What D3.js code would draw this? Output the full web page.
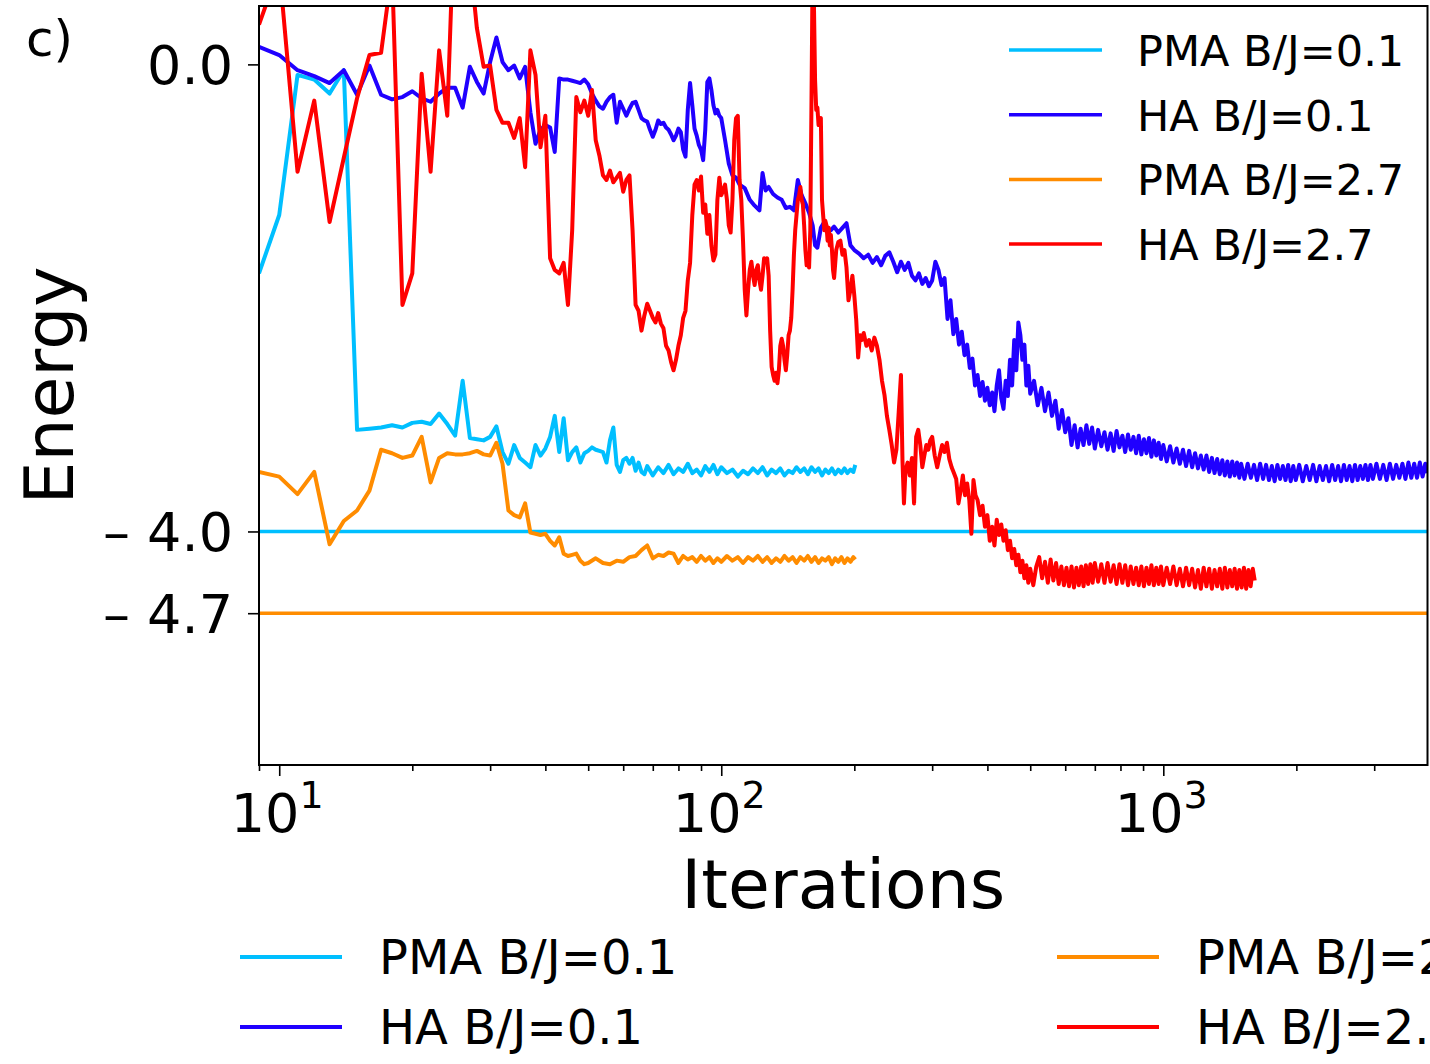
<!DOCTYPE html>
<html>
<head>
<meta charset="utf-8">
<script src="https://cdn.jsdelivr.net/npm/d3@7"></script>
<style>
  body { margin: 0; background: #fff; }
  svg { display: block; font-family: "DejaVu Sans", sans-serif; }
</style>
</head>
<body>
<div class="container"></div>
<script>
// energy vs iterations, log x axis

const seriesNames = ["PMA B/J=0.1", "HA B/J=0.1", "PMA B/J=2.7", "HA B/J=2.7"];
const seriesColors = ["#00bfff", "#2000ff", "#ff8c00", "#ff0000"];

// reference energies (horizontal lines)
const refLevels = [-4.0, -4.7];
const refColors = ["#00bfff", "#ff8c00"];

const majorTicks = [10, 100, 1000];
const majorExp = ["1", "2", "3"];
const minorTicks = [9, 20, 30, 40, 50, 60, 70, 80, 90, 200, 300, 400, 500, 600, 700, 800, 900, 2000, 3000];
const energyTicks = [0, -4.0, -4.7];
const energyLabels = ["0.0", "\u2013 4.0", "\u2013 4.7"];

// [iteration, energy]
const pmaB01 = [
  [9,-1.79],[10,-1.29],[11,-0.09],[12,-0.13],[13,-0.25],[14,-0.05],[15,-3.13],[16,-3.12],[17,-3.11],[18,-3.09],
  [19,-3.11],[20,-3.07],[21,-3.06],[22,-3.08],[23,-2.99],[24,-3.08],[25,-3.18],[26,-2.71],[27,-3.20],[28,-3.21],
  [29,-3.22],[30,-3.19],[31,-3.10],[32,-3.32],[33,-3.42],[34,-3.26],[35,-3.37],[36,-3.41],[37,-3.45],[38,-3.26],
  [39,-3.35],[40,-3.29],[41,-3.19],[42,-3.01],[43,-3.32],[44,-3.03],[45,-3.39],[46,-3.32],[47,-3.28],[48,-3.41],
  [49,-3.33],[50,-3.31],[51,-3.28],[52,-3.30],[53,-3.31],[54,-3.32],[55,-3.41],[56,-3.22],[57,-3.11],[58,-3.43],
  [59,-3.49],[60,-3.39],[61,-3.37],[62,-3.42],[63,-3.37],[64,-3.48],[65,-3.41],[66,-3.49],[67,-3.51],[68,-3.44],
  [70,-3.52],[72,-3.45],[74,-3.50],[76,-3.43],[78,-3.51],[80,-3.46],[82,-3.49],[84,-3.42],[86,-3.50],[88,-3.47],
  [90,-3.52],[92,-3.44],[94,-3.49],[96,-3.43],[98,-3.51],[100,-3.45],[103,-3.50],[106,-3.47],[109,-3.53],[112,-3.48],
  [115,-3.51],[118,-3.46],[121,-3.50],[124,-3.45],[127,-3.52],[130,-3.47],[133,-3.50],[136,-3.46],[139,-3.52],[142,-3.48],
  [145,-3.50],[148,-3.45],[151,-3.49],[154,-3.46],[157,-3.51],[160,-3.45],[163,-3.49],[166,-3.46],[169,-3.52],[172,-3.47],
  [175,-3.50],[178,-3.46],[181,-3.51],[184,-3.47],[187,-3.50],[190,-3.46],[193,-3.50],[196,-3.47],[199,-3.49],[201,-3.43]
];

const haB01 = [
  [9,0.15],[10,0.08],[11,-0.05],[12,-0.10],[13,-0.16],[14,-0.05],[15,-0.26],[16,-0.01],[17,-0.26],[18,-0.30],
  [19,-0.28],[20,-0.23],[21,-0.29],[22,-0.32],[23,-0.25],[24,-0.20],[25,-0.20],[26,-0.37],[27,-0.02],[28,-0.15],
  [29,-0.25],[30,0.02],[31,0.23],[32,0.02],[33,-0.05],[34,-0.01],[35,-0.12],[36,-0.02],[37,-0.41],[38,-0.68],
  [39,-0.56],[40,-0.52],[41,-0.54],[42,-0.75],[43,-0.12],[44,-0.13],[45,-0.13],[46,-0.14],[47,-0.15],[48,-0.16],
  [49,-0.13],[50,-0.17],[51,-0.25],[52,-0.31],[53,-0.36],[54,-0.38],[55,-0.32],[56,-0.28],[57,-0.26],[58,-0.50],
  [59,-0.32],[60,-0.38],[61,-0.44],[62,-0.38],[63,-0.33],[64,-0.32],[65,-0.39],[66,-0.46],[67,-0.48],[68,-0.49],
  [69,-0.56],[70,-0.62],[71,-0.56],[72,-0.48],[73,-0.51],[74,-0.50],[75,-0.54],[76,-0.56],[77,-0.60],[78,-0.65],
  [79,-0.61],[80,-0.55],[81,-0.58],[82,-0.73],[83,-0.79],[84,-0.39],[85,-0.16],[86,-0.35],[87,-0.55],[88,-0.61],
  [89,-0.69],[90,-0.73],[91,-0.82],[92,-0.56],[93,-0.15],[94,-0.12],[95,-0.22],[96,-0.35],[97,-0.42],[98,-0.39],
  [99,-0.44],[100,-0.46],[102,-0.65],[104,-0.85],[106,-0.95],[108,-0.97],[110,-1.03],[113,-1.06],[116,-1.16],[119,-1.21],
  [122,-1.25],[124,-0.93],[126,-1.08],[128,-1.05],[131,-1.11],[134,-1.14],[137,-1.16],[140,-1.23],[143,-1.22],[146,-1.25],
  [149,-0.99],[152,-1.12],[155,-1.19],[158,-1.27],[161,-1.38],[163,-1.55],[165,-1.57],[168,-1.40],[171,-1.35],[174,-1.44],
  [177,-1.42],[180,-1.39],[184,-1.44],[188,-1.40],[192,-1.36],[196,-1.55],[200,-1.59],[205,-1.62],[210,-1.66],[215,-1.63],
  [220,-1.70],[225,-1.65],[230,-1.72],[235,-1.64],[240,-1.61],[245,-1.69],[250,-1.78],[255,-1.69],[260,-1.76],[265,-1.70],
  [270,-1.81],[275,-1.85],[280,-1.79],[285,-1.88],[290,-1.83],[295,-1.90],[300,-1.85],[305,-1.69],[310,-1.76],[315,-1.89],
  [320,-1.83],[325,-2.18],[330,-2.02],[335,-2.31],[340,-2.18],[345,-2.40],[350,-2.29],[355,-2.49],[360,-2.40],[365,-2.60],
  [370,-2.52],[375,-2.75],[380,-2.66],[385,-2.84],[390,-2.72],[395,-2.88],[400,-2.77],[405,-2.92],[410,-2.81],[415,-2.97],
  [420,-2.75],[425,-2.62],[430,-2.86],[435,-2.95],[440,-2.71],[445,-2.84],[450,-2.53],[455,-2.75],[460,-2.36],[465,-2.62],
  [470,-2.21],[475,-2.32],[480,-2.53],[485,-2.40],[490,-2.75],[495,-2.58],[500,-2.82],[510,-2.71],[520,-2.92],[530,-2.77],
  [540,-2.97],[550,-2.81],[560,-3.01],[570,-2.88],[580,-3.12],[590,-2.96],[600,-3.15],[610,-3.03],[620,-3.26],[630,-3.09],
  [640,-3.28],[650,-3.12],[660,-3.26],[670,-3.09],[680,-3.25],[690,-3.11],
  [700,-3.29],[712,-3.13],[724,-3.27],[736,-3.15],[748,-3.30],[760,-3.16],[772,-3.31],[784,-3.14],[796,-3.28],[808,-3.18],
  [820,-3.32],[832,-3.17],[844,-3.30],[856,-3.19],[868,-3.33],[880,-3.18],[892,-3.34],[904,-3.21],[916,-3.33],[928,-3.20],
  [940,-3.36],[952,-3.22],[964,-3.35],[976,-3.24],[988,-3.38],[1000,-3.26],[1018,-3.40],[1036,-3.27],[1054,-3.41],[1072,-3.29],
  [1090,-3.42],[1108,-3.30],[1126,-3.44],[1144,-3.31],[1162,-3.45],[1180,-3.33],[1198,-3.46],[1216,-3.35],[1234,-3.47],[1252,-3.35],
  [1270,-3.49],[1288,-3.37],[1306,-3.50],[1324,-3.38],[1342,-3.51],[1360,-3.39],[1378,-3.52],[1396,-3.40],[1414,-3.53],[1432,-3.40],
  [1450,-3.52],[1468,-3.41],[1486,-3.54],[1500,-3.42],[1526,-3.55],[1552,-3.42],[1578,-3.54],[1604,-3.43],[1630,-3.56],[1656,-3.42],
  [1682,-3.55],[1708,-3.43],[1734,-3.56],[1760,-3.44],[1786,-3.57],[1812,-3.43],[1838,-3.55],[1864,-3.44],[1890,-3.56],[1916,-3.43],
  [1942,-3.57],[1968,-3.44],[1994,-3.56],[2030,-3.43],[2068,-3.57],[2106,-3.44],[2144,-3.56],[2182,-3.43],[2220,-3.57],[2258,-3.44],
  [2296,-3.56],[2334,-3.44],[2372,-3.57],[2410,-3.43],[2448,-3.56],[2486,-3.44],[2524,-3.57],[2562,-3.43],[2600,-3.56],[2638,-3.44],
  [2676,-3.57],[2714,-3.43],[2752,-3.56],[2790,-3.44],[2828,-3.55],[2866,-3.43],[2904,-3.56],[2942,-3.43],[2980,-3.55],[3035,-3.42],
  [3090,-3.55],[3145,-3.43],[3200,-3.56],[3255,-3.42],[3310,-3.55],[3365,-3.43],[3420,-3.54],[3475,-3.42],[3530,-3.55],[3585,-3.41],
  [3640,-3.54],[3695,-3.42],[3750,-3.54],[3805,-3.41],[3860,-3.53],[3915,-3.42],[3960,-3.50]
];

const pmaB27 = [
  [9,-3.49],[10,-3.53],[11,-3.68],[12,-3.49],[13,-4.11],[14,-3.91],[15,-3.82],[16,-3.65],[17,-3.30],[18,-3.33],
  [19,-3.37],[20,-3.35],[21,-3.19],[22,-3.58],[23,-3.37],[24,-3.33],[25,-3.34],[26,-3.34],[27,-3.33],[28,-3.31],
  [29,-3.34],[30,-3.35],[31,-3.24],[32,-3.42],[33,-3.82],[34,-3.86],[35,-3.88],[36,-3.76],[37,-4.01],[38,-4.02],
  [39,-4.03],[40,-4.02],[41,-4.08],[42,-4.12],[43,-4.05],[44,-4.19],[45,-4.21],[46,-4.20],[47,-4.19],[48,-4.25],
  [49,-4.28],[50,-4.27],[52,-4.23],[54,-4.27],[56,-4.28],[58,-4.25],[60,-4.26],[62,-4.22],[64,-4.21],[66,-4.16],
  [67,-4.14],[68,-4.12],[70,-4.23],[72,-4.20],[74,-4.21],[76,-4.18],[78,-4.19],[80,-4.27],[82,-4.21],[84,-4.24],
  [86,-4.22],[88,-4.26],[90,-4.21],[92,-4.25],[94,-4.22],[96,-4.27],[98,-4.23],[100,-4.26],[103,-4.21],[106,-4.25],
  [109,-4.22],[112,-4.27],[115,-4.22],[118,-4.25],[121,-4.21],[124,-4.26],[127,-4.22],[130,-4.27],[133,-4.23],[136,-4.26],
  [139,-4.21],[142,-4.25],[145,-4.22],[148,-4.27],[151,-4.22],[154,-4.25],[157,-4.21],[160,-4.26],[163,-4.22],[166,-4.27],
  [169,-4.23],[172,-4.25],[175,-4.22],[178,-4.28],[181,-4.23],[184,-4.26],[187,-4.22],[190,-4.27],[193,-4.23],[196,-4.26],
  [199,-4.22],[201,-4.24]
];

const haB27 = [
  [9,0.34],[10,0.83],[11,-0.92],[12,-0.31],[13,-1.35],[14,-0.80],[15,-0.29],[16,0.08],[17,0.10],[18,0.81],
  [19,-2.06],[20,-1.79],[21,-0.08],[22,-0.92],[23,0.12],[24,-0.44],[25,1.5],[26,1.5],[27,0.91],[28,0.31],
  [29,-0.02],[30,-0.01],[31,-0.39],[32,-0.50],[33,-0.50],[34,-0.63],[35,-0.46],[36,-0.88],[37,0.12],[38,-0.09],
  [39,-0.71],[40,-0.44],[41,-1.66],[42,-1.76],[43,-1.79],[44,-1.70],[45,-2.06],[46,-1.42],[47,-0.28],[48,-0.41],
  [49,-0.31],[50,-0.44],[51,-0.22],[52,-0.65],[53,-0.78],[54,-0.95],[55,-0.99],[56,-0.91],[57,-1.01],[58,-0.97],
  [59,-0.93],[60,-1.09],[61,-0.99],[62,-0.95],[63,-1.42],[64,-2.06],[65,-2.11],[66,-2.28],[67,-2.15],[68,-2.05],
  [69,-2.11],[70,-2.17],[71,-2.21],[72,-2.13],[73,-2.22],[74,-2.26],[75,-2.41],[76,-2.45],[77,-2.55],[78,-2.62],
  [79,-2.53],[80,-2.41],[81,-2.32],[82,-2.17],[83,-2.11],[84,-1.85],[85,-1.70],[86,-1.29],[87,-1.03],[88,-0.99],
  [89,-1.08],[90,-0.96],[91,-1.27],[92,-1.20],[93,-1.45],[94,-1.29],[95,-1.55],[96,-1.68],[97,-1.63],[98,-1.16],
  [99,-0.97],[100,-1.12],[101,-1.08],[102,-1.03],[103,-1.16],[104,-1.38],[105,-1.44],[106,-1.16],[107,-0.65],[108,-0.46],
  [109,-0.44],[110,-0.99],[111,-1.16],[112,-1.51],[113,-1.93],[114,-2.15],[115,-1.93],[116,-1.76],[117,-1.69],[118,-1.81],
  [119,-1.89],[120,-1.76],[121,-1.72],[122,-1.85],[123,-1.93],[124,-1.81],[125,-1.66],[126,-1.69],[127,-1.66],[128,-1.81],
  [129,-2.28],[130,-2.59],[131,-2.66],[132,-2.71],[133,-2.64],[134,-2.73],[135,-2.62],[136,-2.41],[137,-2.35],[138,-2.41],
  [139,-2.53],[140,-2.62],[141,-2.49],[142,-2.32],[143,-2.28],[144,-2.17],[145,-1.93],[146,-1.63],[147,-1.42],[148,-1.29],
  [149,-1.16],[150,-1.12],[151,-1.05],[152,-1.16],[153,-1.20],[154,-1.38],[155,-1.59],[156,-1.72],[157,-1.63],[158,-1.74],
  [159,-1.42],[160,-0.31],[161,0.89],[162,0.55],[163,-0.13],[164,-0.39],[165,-0.37],[166,-0.52],[167,-0.48],[168,-0.46],
  [169,-1.16],[170,-1.29],[171,-1.42],[172,-1.34],[173,-1.38],[174,-1.51],[175,-1.40],[176,-1.55],[177,-1.46],[178,-1.59],
  [179,-1.76],[180,-1.83],[182,-1.59],[184,-1.52],[186,-1.51],[188,-1.63],[190,-1.59],[192,-1.74],[194,-2.02],[196,-1.93],
  [198,-1.81],[200,-1.98],[202,-2.19],[204,-2.51],[206,-2.32],[208,-2.36],[210,-2.30],[213,-2.41],[216,-2.36],[219,-2.45],
  [222,-2.34],[225,-2.41],[228,-2.53],[231,-2.71],[234,-2.83],[237,-3.01],[240,-3.13],[243,-3.26],[246,-3.41],[249,-3.30],
  [252,-2.98],[255,-2.66],[257,-3.39],[259,-3.76],[261,-3.48],[264,-3.41],[267,-3.52],[270,-3.37],[273,-3.76],[276,-3.19],
  [279,-3.13],[282,-3.26],[285,-3.45],[288,-3.35],[291,-3.26],[294,-3.30],[297,-3.22],[300,-3.19],[304,-3.35],[308,-3.45],
  [312,-3.35],[316,-3.26],[320,-3.32],[324,-3.24],[328,-3.38],[332,-3.45],[336,-3.50],[340,-3.55],[344,-3.76],[348,-3.65],
  [352,-3.52],[356,-3.69],[360,-3.59],[364,-3.73],[368,-4.02],[372,-3.56],[376,-3.69],[380,-3.73],[385,-3.86],[390,-3.78],
  [395,-3.96],[400,-3.86],[405,-4.08],[410,-3.96],[415,-4.12],[420,-3.90],[425,-4.03],[430,-3.94],[435,-4.08],[440,-3.99],
  [445,-4.16],[450,-4.08],[455,-4.23],[460,-4.15],[465,-4.29],[470,-4.20],[475,-4.35],[480,-4.25],[485,-4.40],[490,-4.29],
  [495,-4.44],[500,-4.32],[508,-4.46],[516,-4.30],[524,-4.22],[532,-4.40],[540,-4.26],[548,-4.44],[556,-4.24],[564,-4.42],
  [572,-4.27],[580,-4.45],[588,-4.30],[596,-4.46],[604,-4.31],[612,-4.47],[620,-4.30],[628,-4.48],[636,-4.31],[644,-4.46],
  [652,-4.30],[660,-4.47],[668,-4.29],[676,-4.45],[684,-4.28],[692,-4.44],[700,-4.27],[712,-4.43],[724,-4.28],[736,-4.44],
  [748,-4.27],[760,-4.43],[772,-4.29],[784,-4.45],[796,-4.28],[808,-4.44],[820,-4.29],[832,-4.46],[844,-4.30],[856,-4.45],
  [868,-4.31],[880,-4.46],[892,-4.30],[904,-4.47],[916,-4.31],[928,-4.45],[940,-4.29],[952,-4.46],[964,-4.31],[976,-4.45],
  [988,-4.30],[1000,-4.46],[1018,-4.31],[1036,-4.45],[1054,-4.30],[1072,-4.46],[1090,-4.32],[1108,-4.47],[1126,-4.31],[1144,-4.46],
  [1162,-4.32],[1180,-4.48],[1198,-4.33],[1216,-4.49],[1234,-4.31],[1252,-4.47],[1270,-4.32],[1288,-4.49],[1306,-4.33],[1324,-4.47],
  [1342,-4.32],[1360,-4.49],[1378,-4.31],[1396,-4.48],[1414,-4.33],[1432,-4.47],[1450,-4.32],[1468,-4.49],[1486,-4.33],[1504,-4.48],
  [1522,-4.31],[1540,-4.49],[1558,-4.33],[1576,-4.47],[1594,-4.32],[1610,-4.42]
];

const allSeries = [pmaB01, haB01, pmaB27, haB27];

const W = 1430, H = 1064;
const plot = { left: 259, right: 1427.5, top: 6, bottom: 765 };

const x = d3.scaleLog().domain([9, 3960]).range([plot.left, plot.right]);
const y = d3.scaleLinear().domain([-6, 0.5]).range([plot.bottom, plot.top]);

const svg = d3.select(".container").append("svg")
  .attr("width", W).attr("height", H)
  .attr("viewBox", [0, 0, W, H]);

svg.append("defs").append("clipPath").attr("id", "clip")
  .append("rect")
  .attr("x", plot.left).attr("y", plot.top)
  .attr("width", plot.right - plot.left).attr("height", plot.bottom - plot.top);

const g = svg.append("g").attr("clip-path", "url(#clip)");

// reference lines
g.selectAll("line.ref")
  .data(refLevels)
  .join("line")
  .attr("class", "ref")
  .attr("x1", plot.left).attr("x2", plot.right)
  .attr("y1", (d) => y(d)).attr("y2", (d) => y(d))
  .attr("stroke", (d, i) => refColors[i])
  .attr("stroke-width", 3.5);

const line = d3.line().x((d) => x(d[0])).y((d) => y(d[1]));

g.selectAll("path.series")
  .data(allSeries)
  .join("path")
  .attr("class", "series")
  .attr("d", line)
  .attr("fill", "none")
  .attr("stroke", (d, i) => seriesColors[i])
  .attr("stroke-width", 4)
  .attr("stroke-linejoin", "round");

// x axis
const xMajor = svg.append("g")
  .attr("transform", `translate(0,${plot.bottom})`)
  .call(d3.axisBottom(x).tickValues(majorTicks).tickSize(11).tickFormat(""));
const xMinor = svg.append("g")
  .attr("transform", `translate(0,${plot.bottom})`)
  .call(d3.axisBottom(x).tickValues(minorTicks).tickSize(6).tickFormat(""));
[xMajor, xMinor].forEach((a) => {
  a.select(".domain").remove();
  a.selectAll("line").attr("stroke", "#000").attr("stroke-width", 1.6);
});

const xl = svg.selectAll("text.xtick")
  .data(majorTicks)
  .join("text")
  .attr("class", "xtick")
  .attr("x", (d) => x(d) - 2)
  .attr("y", 832)
  .attr("text-anchor", "middle")
  .attr("font-size", 54)
  .attr("fill", "#000");
xl.append("tspan").text("10");
xl.append("tspan")
  .attr("dy", -24)
  .attr("font-size", 38)
  .text((d, i) => majorExp[i]);

// y axis
const yAxis = svg.append("g")
  .attr("transform", `translate(${plot.left},0)`)
  .call(d3.axisLeft(y).tickValues(energyTicks).tickSize(11).tickPadding(15)
    .tickFormat((d, i) => energyLabels[i]));
yAxis.select(".domain").remove();
yAxis.selectAll("line").attr("stroke", "#000").attr("stroke-width", 1.6);
yAxis.selectAll("text")
  .attr("font-size", 54)
  .attr("font-family", "DejaVu Sans")
  .attr("fill", "#000")
  .attr("dy", "0.36em");

// frame
svg.append("rect")
  .attr("x", plot.left).attr("y", plot.top)
  .attr("width", plot.right - plot.left).attr("height", plot.bottom - plot.top)
  .attr("fill", "none").attr("stroke", "#000").attr("stroke-width", 2);

// labels
svg.append("text")
  .attr("x", (plot.left + plot.right) / 2).attr("y", 908)
  .attr("text-anchor", "middle").attr("font-size", 68)
  .text("Iterations");

svg.append("text")
  .attr("transform", `translate(73,${(plot.top + plot.bottom) / 2}) rotate(-90)`)
  .attr("text-anchor", "middle").attr("font-size", 68)
  .text("Energy");

svg.append("text")
  .attr("x", 26).attr("y", 56)
  .attr("font-size", 50)
  .text("c)");

// inner legend (top right)
const leg = svg.append("g");
seriesNames.forEach((name, i) => {
  const ly = 50 + i * 64.7;
  leg.append("line")
    .attr("x1", 1009).attr("x2", 1102).attr("y1", ly).attr("y2", ly)
    .attr("stroke", seriesColors[i]).attr("stroke-width", 3.5);
  leg.append("text")
    .attr("x", 1137).attr("y", ly + 16)
    .attr("font-size", 43)
    .text(name);
});

// outer legend below the axes, two columns (cut by the page edge as in the source figure)
const leg2 = svg.append("g");
seriesNames.forEach((name, i) => {
  const col = Math.floor(i / 2), row = i % 2;
  const lx = col === 0 ? 240 : 1057;
  const ly = 957 + row * 70;
  leg2.append("line")
    .attr("x1", lx).attr("x2", lx + 102).attr("y1", ly).attr("y2", ly)
    .attr("stroke", seriesColors[i]).attr("stroke-width", 4);
  leg2.append("text")
    .attr("x", lx + 139).attr("y", ly + 17)
    .attr("font-size", 48)
    .text(name);
});
</script>
</body>
</html>
